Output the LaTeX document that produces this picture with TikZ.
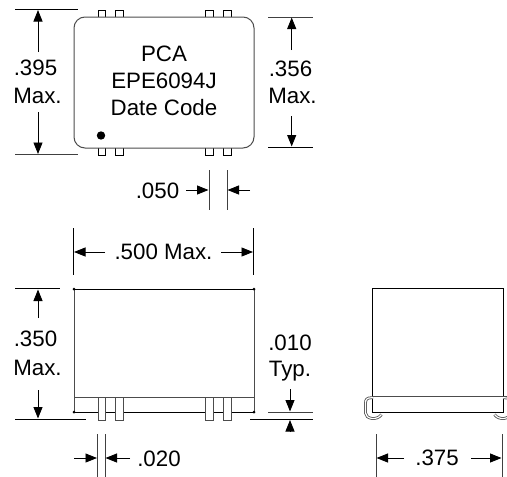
\documentclass[tikz,border=0pt]{standalone}
\usepackage{fontspec}
\setmainfont{Liberation Sans}
\usetikzlibrary{arrows.meta}
\definecolor{bodygray}{gray}{0.3}
\definecolor{extgray}{gray}{0.25}
\tikzset{
  lab/.style={font=\fontsize{22.3}{22.3}\selectfont,inner sep=0pt,anchor=center,text=black},
  ext/.style={draw=extgray,line width=0.9pt},
  dim/.style={draw=black,line width=0.8pt,-{Triangle[length=11.5pt,width=9pt]}},
  pkg/.style={draw=bodygray,line width=1pt},
  pkgk/.style={draw=black,line width=1pt},
  pin/.style={draw=black,line width=0.9pt,fill=white},
  pinf/.style={draw=bodygray,line width=0.9pt,fill=white},
  hookout/.style={draw=bodygray,line width=2.8pt},
  hookin/.style={draw=white,line width=1.2pt},
}
\begin{document}
\begin{tikzpicture}[x=1pt,y=-1pt]
\useasboundingbox (0,0) rectangle (507,477);
% top view
\foreach \a/\b in {98/105.5,115.5/123,205.5/213,223.5/231}{
  \draw[pin] (\a,17) -- (\a,10) -- (\b,10) -- (\b,17);
  \draw[pin] (\a,148) -- (\a,155) -- (\b,155) -- (\b,148);
}
\draw[pkg,rounded corners=11pt] (74,17) rectangle (254,148);
\fill[black] (101,135.5) circle (4.2);
\node[lab] (pca) at (164,54) {PCA};
\node[lab] (epe) at (164,81) {EPE6094J};
\node[lab] (dc) at (164,108) {Date Code};
% .395
\draw[ext,draw=black] (15,9.5) -- (78,9.5);
\draw[ext] (15,154.5) -- (78,154.5);
\draw[dim] (38,52) -- (38,10);
\draw[dim] (38,112) -- (38,154);
\node[lab] (a1) at (35.5,68) {.395};
\node[lab] (a2) at (37.5,96) {Max.};
% .356
\draw[ext] (268,17) -- (313,17);
\draw[ext,draw=black] (268,147) -- (313,147);
\draw[dim] (291.7,50) -- (291.7,17.5);
\draw[dim] (291.7,116) -- (291.7,146.5);
\node[lab] (b1) at (290.5,69) {.356};
\node[lab] (b2) at (292.5,96) {Max.};
% .050
\draw[ext] (209,170) -- (209,210);
\draw[ext] (227,170) -- (227,210);
\draw[dim] (186,190) -- (208.5,190);
\draw[dim] (250,190) -- (227.5,190);
\node[lab] (c1) at (157.5,190.5) {.050};
% front view
\draw[ext,draw=black] (73.5,228) -- (73.5,275);
\draw[ext,draw=black] (253.5,228) -- (253.5,275);
\draw[dim] (105,252) -- (74,252);
\draw[dim] (221,252) -- (253,252);
\node[lab] (d1) at (163.5,252) {.500 Max.};
\draw[pkgk,line width=0.8pt] (74,289) -- (254,289);
\draw[pkg] (74,289) -- (74,412);
\draw[pkg] (254,289) -- (254,412);
\draw[pkg] (74,397) -- (254,397);
\draw[pkgk] (74,412) -- (254,412);
\foreach \p in {(74,289),(254,289),(74,412),(254,412)} \fill[black] \p circle (1.5);
\foreach \a/\b in {98/105.5,115.5/123,205.5/213,223.5/231}
  \draw[pinf] (\a,397) rectangle (\b,420);
% .350
\draw[ext,draw=black] (15,288.5) -- (60,288.5);
\draw[ext,draw=black] (15,419) -- (86,419);
\draw[dim] (38,318) -- (38,289.5);
\draw[dim] (38,390) -- (38,418.5);
\node[lab] (e1) at (35.5,339) {.350};
\node[lab] (e2) at (37.5,367.5) {Max.};
% .010
\draw[ext] (268,412) -- (313,412);
\draw[ext,draw=black] (250,419) -- (313,419);
\draw[dim] (290,389) -- (290,411.5);
\draw[dim] (290,432) -- (290,420);
\node[lab] (f1) at (290,343) {.010};
\node[lab] (f2) at (290,371.5) {Typ.};
% .020
\draw[ext] (97.5,434) -- (97.5,477);
\draw[ext] (105,434) -- (105,477);
\draw[dim] (74,458) -- (97,458);
\draw[dim] (130,458) -- (105.5,458);
\node[lab] (g1) at (159,459) {.020};
% side view
\draw[black,line width=1pt] (372.5,288.5) rectangle (503.5,412);
\begin{scope}
\clip (0,0) rectangle (507,477);
\foreach \s in {hookout,hookin}{
\draw[\s] (373,397.8) -- (371,397.8) .. controls (367,397.8) and (365.5,399.5) .. (365.5,403) -- (365.5,413) .. controls (365.5,419) and (377,421) .. (381.5,414.5);
\draw[\s] (503,397.8) -- (505,397.8) .. controls (509,397.8) and (510.5,399.5) .. (510.5,403) -- (510.5,413) .. controls (510.5,419) and (499,421) .. (494.5,414.5);
}
\end{scope}
\draw[pkg] (372,396.7) -- (507,396.7);
\draw[ext] (376,434) -- (376,477);
\draw[ext] (502,434) -- (502,477);
\draw[dim] (404,458) -- (376.5,458);
\draw[dim] (471,458) -- (501.5,458);
\node[lab] (h1) at (437,458) {.375};
\end{tikzpicture}
\end{document}
